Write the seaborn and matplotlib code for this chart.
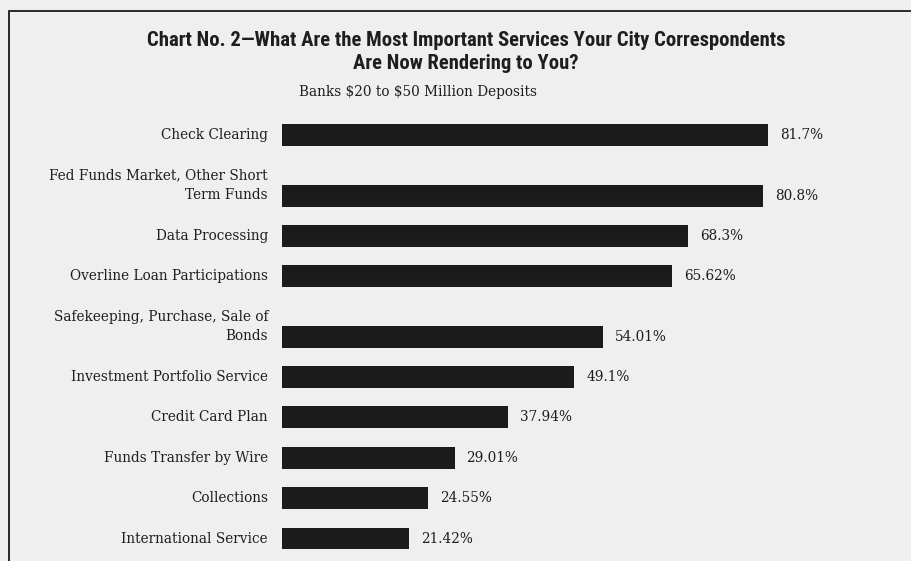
import matplotlib
matplotlib.use("Agg")
import matplotlib.pyplot as plt
from matplotlib import font_manager
from matplotlib.lines import Line2D
import pandas as pd
import seaborn as sns

# Survey results: share of banks naming each correspondent service
services = [
    "Check Clearing",
    "Fed Funds Market, Other Short\nTerm Funds",
    "Data Processing",
    "Overline Loan Participations",
    "Safekeeping, Purchase, Sale of\nBonds",
    "Investment Portfolio Service",
    "Credit Card Plan",
    "Funds Transfer by Wire",
    "Collections",
    "International Service",
]
percent = [81.7, 80.8, 68.3, 65.62, 54.01, 49.1, 37.94, 29.01, 24.55, 21.42]
value_labels = ["81.7%", "80.8%", "68.3%", "65.62%", "54.01%",
                "49.1%", "37.94%", "29.01%", "24.55%", "21.42%"]

title_lines = [
    "Chart No. 2\u2014What Are the Most Important Services Your City Correspondents",
    "Are Now Rendering to You?",
]
subtitle = r"Banks \$20 to \$50 Million Deposits"

# Row positions: rows with a two-line label get extra room above them
rows = []
y = 0.0
for i, s in enumerate(services):
    n = s.count("\n") + 1
    if i > 0:
        y += 1 + 0.5 * (n - 1)
    rows.append(y)

df = pd.DataFrame({"service": services, "percent": percent, "row": rows})

sns.set_theme(style="white")
BG = "#efefef"
INK = "#1e1e1e"
BAR = "#1b1b1b"
SERIF = ["DejaVu Serif"]
LABEL_SIZE = 9.8

available = {f.name for f in font_manager.fontManager.ttflist}
cond_family = next((f for f in ["Roboto Condensed", "Liberation Sans Narrow",
                                "Open Sans Condensed", "DejaVu Sans Condensed"]
                    if f in available), None)
if cond_family is None:
    title_font = dict(family=["DejaVu Sans"], stretch="condensed", weight="bold", size=11.5)
else:
    title_font = dict(family=[cond_family], weight="bold", size=14.9)

W, H = 911, 561
fig = plt.figure(figsize=(W / 100, H / 100), dpi=100, facecolor=BG)

px_per_pct = 5.95
ax_left, ax_top = 282, 105
xmax = 105
ax = fig.add_axes([ax_left / W, 0, xmax * px_per_pct / W, (H - ax_top) / H])
ax.set_facecolor("none")

sns.barplot(data=df, x="percent", y="row", orient="h", native_scale=True,
            color=BAR, saturation=1, width=0.545, linewidth=0,
            errorbar=None, ax=ax)

row_px = 40.35
first_center = 135
ax.set_xlim(0, xmax)
ax.set_ylim((H - first_center) / row_px, (ax_top - first_center) / row_px)
ax.set_axis_off()

pt = 0.72  # points per pixel at 100 dpi
for s, r in zip(services, rows):
    n = s.count("\n") + 1
    ax.annotate(s, xy=(0, r), xycoords=("axes fraction", "data"),
                xytext=(-14 * pt, (n - 1) * 21 / 2 * pt), textcoords="offset points",
                ha="right", va="center", linespacing=1.5,
                fontsize=LABEL_SIZE, family=SERIF, color=INK)

for v, lab, r in zip(percent, value_labels, rows):
    ax.annotate(lab, xy=(v, r), xytext=(12 * pt, 0), textcoords="offset points",
                ha="left", va="center", fontsize=LABEL_SIZE, family=SERIF, color=INK)

# Titles
fig.text(466 / W, 1 - 40 / H, title_lines[0], ha="center", va="center",
         color=INK, **title_font)
fig.text(466 / W, 1 - 64 / H, title_lines[1], ha="center", va="center",
         color=INK, **title_font)
fig.text(418 / W, 1 - 92 / H, subtitle, ha="center", va="center",
         fontsize=LABEL_SIZE, family=SERIF, color=INK)

# Frame rules along the top and left edge
fig.add_artist(Line2D([9 / W, 1], [1 - 11 / H, 1 - 11 / H], transform=fig.transFigure,
                      color="#2e2e2e", lw=2 * pt))
fig.add_artist(Line2D([9 / W, 9 / W], [0, 1 - 11 / H], transform=fig.transFigure,
                      color="#2e2e2e", lw=2 * pt))

fig.savefig("out.png", dpi=100, facecolor=BG)
